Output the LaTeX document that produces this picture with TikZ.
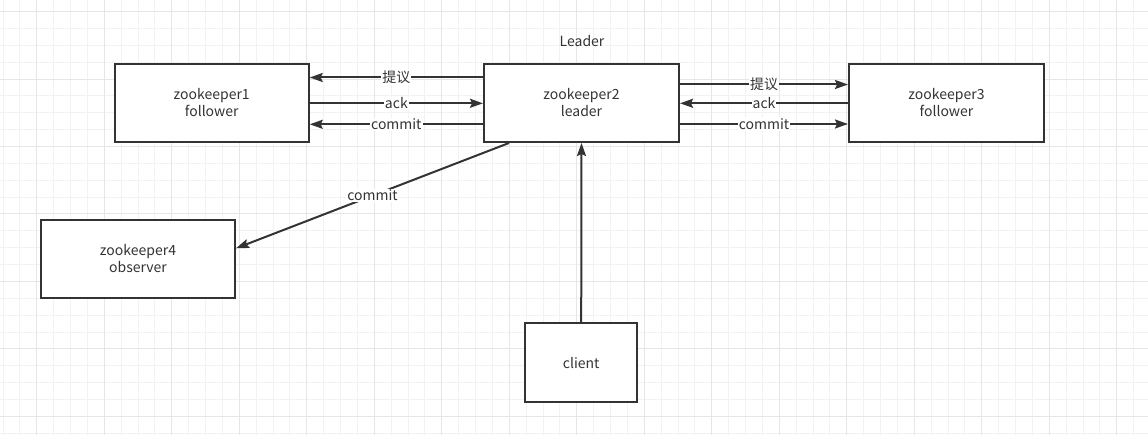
\documentclass[tikz,border=0pt]{standalone}
\usepackage{fontspec}
\setmainfont{Noto Sans CJK SC}
\usetikzlibrary{arrows.meta}
\definecolor{linec}{HTML}{333333}
\definecolor{textc}{HTML}{333333}
\definecolor{gridminor}{HTML}{F2F2F2}
\definecolor{gridmajor}{HTML}{E6E6E6}

\begin{document}
\begin{tikzpicture}[x=1pt, y=-1pt,
  zkbox/.style={draw=linec, line width=2pt, fill=white, text=textc, align=center,
    minimum width=194pt, minimum height=78pt, inner sep=0pt,
    font=\fontsize{14}{17}\selectfont},
  arr/.style={draw=linec, line width=2pt, -{Stealth[length=13pt, width=9pt, inset=2pt]}},
  lbl/.style={fill=white, text=textc, inner sep=1pt, font=\fontsize{14}{15}\selectfont}]
  \useasboundingbox (0,0) rectangle (1148,435);
  % grid
  \foreach \j in {0,...,67}
    \draw[gridminor, line width=1pt] (3.05+16.875*\j,0) -- (3.05+16.875*\j,435);
  \foreach \i in {0,...,25}
    \draw[gridminor, line width=1pt] (0,11.7+16.858*\i) -- (1148,11.7+16.858*\i);
  \foreach \j in {2,6,...,66}
    \draw[gridmajor, line width=1pt] (3.05+16.875*\j,0) -- (3.05+16.875*\j,435);
  \foreach \i in {0,4,...,24}
    \draw[gridmajor, line width=1pt] (0,11.7+16.858*\i) -- (1148,11.7+16.858*\i);

  \node (zk1) [zkbox] at (211.7,103) {zookeeper1\\follower};
  \node (zk2) [zkbox, minimum width=195pt] at (581.5,103) {zookeeper2\\leader};
  \node (zk3) [zkbox, minimum width=195pt] at (946.5,103) {zookeeper3\\follower};
  \node (zk4) [zkbox] at (138,259) {zookeeper4\\observer};
  \node (client) [zkbox, minimum width=112pt, minimum height=79pt] at (581.2,362.7) {client};
  \node (title) [text=textc, font=\fontsize{14}{15}\selectfont] at (582,41) {Leader};

  \draw[arr] ([yshift=25.5pt]zk2.west) -- node[lbl] {提议} ([yshift=25.5pt]zk1.east);
  \draw[arr] ([yshift=-0.3pt]zk1.east) -- node[lbl] {ack} ([yshift=-0.3pt]zk2.west);
  \draw[arr] ([yshift=-21.3pt]zk2.west) -- node[lbl] {commit} ([yshift=-21.3pt]zk1.east);
  \draw[arr] ([yshift=18.5pt]zk2.east) -- node[lbl] {提议} ([yshift=18.5pt]zk3.west);
  \draw[arr] ([yshift=-0.3pt]zk3.west) -- node[lbl] {ack} ([yshift=-0.3pt]zk2.east);
  \draw[arr] ([yshift=-21pt]zk2.east) -- node[lbl] {commit} ([yshift=-21pt]zk3.west);
  \draw[arr] ([xshift=26pt]zk2.south west) -- node[lbl] {commit} ([yshift=10.7pt]zk4.east);
  \draw[arr] (client.north) -- (zk2.south);
\end{tikzpicture}
\end{document}
